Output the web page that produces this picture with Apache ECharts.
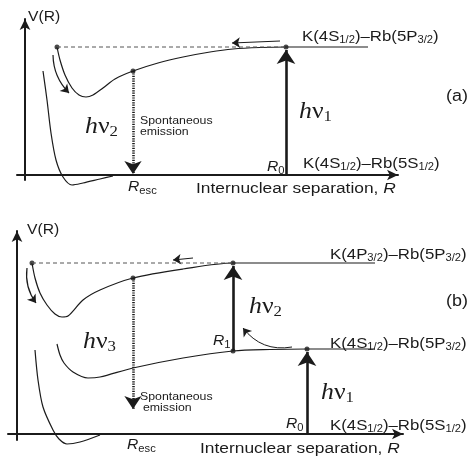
<!DOCTYPE html>
<html>
<head>
<meta charset="utf-8">
<script src="https://cdn.jsdelivr.net/npm/echarts@6/dist/echarts.min.js"></script>
<style>
  html, body { margin: 0; padding: 0; background: #fff; }
  #chart { width: 471px; height: 459px; }
</style>
</head>
<body>
<div id="chart"></div>
<script>
// ---------- panel (a): K(4S)+Rb(5S) ground and K(4S)+Rb(5P) excited potentials ----------
// [R, V] in arbitrary units, V = 0 at the ground asymptote
const groundA = [[0.72,10.4],[0.88,7.5],[1.04,4.2],[1.24,1.5],[1.52,-0.2],[1.88,-1.0],[2.32,-0.8],[3.0,-0.4],[3.52,-0.1]];
const excitedA = [[1.28,12.8],[1.4,11.5],[1.6,10.0],[1.88,8.7],[2.16,8.0],[2.44,7.8],[2.72,8.0],[3.12,8.7],[3.6,9.6],[4.32,10.4],[5.32,11.2],[6.32,11.8],[7.4,12.3],[8.32,12.6],[9.4,12.75],[10.44,12.8],[13.72,12.8]];
const R0_A = 10.44;      // photoassociation distance
const RescA = 4.32;      // emission point
const asymA = 12.8;      // K(4S1/2)-Rb(5P3/2) asymptote
const emitTopA = 10.4;   // excited curve at RescA
const innerA = 1.28;     // inner turning point

// ---------- panel (b): adds the K(4P)+Rb(5P) doubly excited potential ----------
const groundB = [[0.72,8.4],[0.84,5.4],[1.04,2.7],[1.44,0.4],[1.68,-0.5],[2.0,-1.0],[2.52,-0.8],[3.32,-0.1]];
const midB = [[1.6,9.0],[1.72,7.9],[1.88,7.1],[2.24,6.2],[2.84,5.6],[3.32,5.7],[4.64,6.6],[6.64,7.6],[8.64,8.3],[10.12,8.45],[11.6,8.5],[14.32,8.5]];
const upperB = [[0.6,17.1],[0.72,15.6],[0.92,14.1],[1.2,12.9],[1.52,12.0],[1.8,11.7],[2.04,11.8],[2.64,13.4],[3.32,14.4],[4.64,15.6],[6.64,16.5],[8.64,17.1],[14.32,17.1]];
const R0_B = 11.6;
const R1_B = 8.64;
const RescB = 4.64;
const asymMidB = 8.5;
const asymUpB = 17.1;
const lowMidB = 8.3;     // mid curve at R1_B
const emitTopB = 15.6;
const emitEndB = 2.4;
const innerB = 0.6;

// thin guide arrows [[from],[to]]
const driftA = [[10.2,13.4],[8.28,13.2]];
const fallA = [[1.12,12.0],[1.76,8.2]];
const driftB = [[7.04,17.6],[6.24,17.4]];
const fallB = [[0.4,16.6],[0.76,13.1]];
const climbB = [[11.0,8.7],[9.04,10.6]];

// text
const statesA = ['K(4S_{1/2})–Rb(5P_{3/2})', 'K(4S_{1/2})–Rb(5S_{1/2})'];
const statesB = ['K(4P_{3/2})–Rb(5P_{3/2})', 'K(4S_{1/2})–Rb(5P_{3/2})', 'K(4S_{1/2})–Rb(5S_{1/2})'];
const axisTitleX = 'Internuclear separation, ';
const axisTitleY = 'V(R)';
const emissionText = ['Spontaneous', 'emission'];

const INK = '#1b1b1b';
const SANS = '"Liberation Sans", Arial, sans-serif';
const SERIF = '"Liberation Serif", "Times New Roman", serif';
const SX = 1.12; // horizontal stretch of the lettering

// pixel size of one data unit in both grids (grid size / axis span)
const PX_R = 25, PX_V = 10;

function toRich(s) {
  return '{n|' + s.replace(/_\{([^}]*)\}/g, '}{s|$1}{n|') + '}';
}
const stateRich = {
  n: { fontSize: 15, fontFamily: SANS, fill: INK, verticalAlign: 'top' },
  s: { fontSize: 10, fontFamily: SANS, fill: INK, verticalAlign: 'top', padding: [6, 0, 0, 0] }
};
const hvRich = {
  h: { fontSize: 23, fontFamily: SERIF, fontStyle: 'italic', fill: INK, verticalAlign: 'top' },
  v: { fontSize: 23, fontFamily: SERIF, fill: INK, verticalAlign: 'top' },
  d: { fontSize: 15, fontFamily: SERIF, fill: INK, verticalAlign: 'top', padding: [10, 0, 0, 0] }
};
const rRich = {
  r: { fontSize: 14, fontFamily: SANS, fontStyle: 'italic', fill: INK, verticalAlign: 'top' },
  s: { fontSize: 10, fontFamily: SANS, fill: INK, verticalAlign: 'top', padding: [6, 0, 0, 0] }
};
const titleRich = {
  n: { fontSize: 15.5, fontFamily: SANS, fill: INK, verticalAlign: 'top' },
  i: { fontSize: 15.5, fontFamily: SANS, fontStyle: 'italic', fill: INK, verticalAlign: 'top' }
};

function txt(x, y, text, rich, fontSize, family) {
  return {
    type: 'text', x: x, y: y, scaleX: SX, silent: true,
    style: { text: text, rich: rich, fontSize: fontSize || 12, fontFamily: family || SANS,
             fill: INK, align: 'left', verticalAlign: 'top' }
  };
}
const hv = n => '{h|h}{v|ν}{d|' + n + '}';
const rl = s => '{r|R}{s|' + s + '}';

// pull an arrow's end back along its direction so the head stops just short of the point
function toTip(seg, backPx) {
  const a = seg[0], b = seg[1];
  const dx = (b[0] - a[0]) * PX_R, dy = (b[1] - a[1]) * PX_V;
  const len = Math.hypot(dx, dy) || 1;
  return [a, [b[0] - dx / len * backPx / PX_R, b[1] - dy / len * backPx / PX_V]];
}

function axisPair(g, xr, yr) {
  const line = {
    onZero: true, symbol: ['none', 'arrow'], symbolSize: [8, 11],
    lineStyle: { color: INK, width: 2 }
  };
  return {
    x: { type: 'value', gridIndex: g, min: xr[0], max: xr[1], axisLine: line,
         axisTick: { show: false }, axisLabel: { show: false }, splitLine: { show: false } },
    y: { type: 'value', gridIndex: g, min: yr[0], max: yr[1], axisLine: line,
         axisTick: { show: false }, axisLabel: { show: false }, splitLine: { show: false } }
  };
}
const axA = axisPair(0, [-0.32, 14.92], [-0.5, 15.6]);
const axB = axisPair(1, [-0.36, 15.44], [-0.6, 20.3]);

function curve(g, data) {
  return { type: 'line', xAxisIndex: g, yAxisIndex: g, data: data, smooth: 0.3,
           symbol: 'none', clip: false, silent: true,
           lineStyle: { color: INK, width: 1.2 } };
}
function dashed(g, from, to) {
  return { type: 'line', xAxisIndex: g, yAxisIndex: g, data: [from, to], symbol: 'none',
           clip: false, silent: true, lineStyle: { color: '#555', width: 1, type: [4, 3] } };
}
function arrows(g, list, width, size, back, type, curveness) {
  return { type: 'lines', coordinateSystem: 'cartesian2d', xAxisIndex: g, yAxisIndex: g,
           silent: true, clip: false, symbol: ['none', 'arrow'], symbolSize: size,
           lineStyle: { color: INK, width: width, type: type || 'solid', curveness: curveness || 0, opacity: 1 },
           data: list.map(c => ({ coords: back ? toTip(c, back) : c })) };
}
function dots(g, data) {
  return { type: 'scatter', xAxisIndex: g, yAxisIndex: g, data: data, symbolSize: 5,
           silent: true, clip: false, itemStyle: { color: INK } };
}

const option = {
  animation: false,
  backgroundColor: '#fff',
  grid: [
    { left: 17, top: 19, width: 381, height: 161, outerBoundsMode: 'none' },
    { left: 8, top: 231, width: 395, height: 209, outerBoundsMode: 'none' }
  ],
  xAxis: [axA.x, axB.x],
  yAxis: [axA.y, axB.y],
  series: [
    // panel (a)
    curve(0, groundA),
    curve(0, excitedA),
    dashed(0, [innerA, asymA], [R0_A, asymA]),
    arrows(0, [[[R0_A, 0], [R0_A, asymA]]], 2.6, [10, 14], 3),
    arrows(0, [[[RescA, emitTopA], [RescA, 0]]], 2.6, [10, 13], 1, [1.2, 1.2]),
    arrows(0, [driftA], 1, [6, 8], 0),
    arrows(0, [fallA], 1.2, [6, 8], 0, 'solid', -0.2),
    dots(0, [[R0_A, asymA], [RescA, emitTopA], [innerA, asymA]]),
    // panel (b)
    curve(1, groundB),
    curve(1, midB),
    curve(1, upperB),
    dashed(1, [innerB, asymUpB], [R1_B, asymUpB]),
    arrows(1, [[[R0_B, 0], [R0_B, asymMidB]], [[R1_B, lowMidB], [R1_B, asymUpB]]], 2.6, [10, 14], 3),
    arrows(1, [[[RescB, emitTopB], [RescB, emitEndB]]], 2.6, [10, 13], 1, [1.2, 1.2]),
    arrows(1, [driftB], 1, [6, 8], 0),
    arrows(1, [fallB], 1.2, [6, 8], 0, 'solid', -0.2),
    arrows(1, [climbB], 1, [6, 8], 0, 'solid', 0.3),
    dots(1, [[innerB, asymUpB], [R1_B, asymUpB], [R1_B, lowMidB], [R0_B, asymMidB], [RescB, emitTopB]])
  ],
  graphic: [
    // panel (a)
    txt(28, 10, axisTitleY, null, 14),
    txt(302, 29, toRich(statesA[0]), stateRich),
    txt(303, 156, toRich(statesA[1]), stateRich),
    txt(446, 89, '(a)', null, 16),
    txt(299, 100, hv(1), hvRich),
    txt(85, 115, hv(2), hvRich),
    txt(140, 115, emissionText[0], null, 11),
    txt(140, 126, emissionText[1], null, 11),
    txt(267, 160, rl('0'), rRich),
    txt(128, 180, rl('esc'), rRich),
    txt(196, 181, '{n|' + axisTitleX + '}{i|R}', titleRich),
    // panel (b)
    txt(27, 223, axisTitleY, null, 14),
    txt(330, 247, toRich(statesB[0]), stateRich),
    txt(330, 336, toRich(statesB[1]), stateRich),
    txt(330, 418, toRich(statesB[2]), stateRich),
    txt(446, 294, '(b)', null, 16),
    txt(249, 295, hv(2), hvRich),
    txt(321, 381, hv(1), hvRich),
    txt(83, 330, hv(3), hvRich),
    txt(140, 391, emissionText[0], null, 11),
    txt(143, 402, emissionText[1], null, 11),
    txt(213, 334, rl('1'), rRich),
    txt(286, 417, rl('0'), rRich),
    txt(127, 438, rl('esc'), rRich),
    txt(200, 441, '{n|' + axisTitleX + '}{i|R}', titleRich)
  ]
};

const chart = echarts.init(document.getElementById('chart'));
chart.setOption(option);
</script>
</body>
</html>
